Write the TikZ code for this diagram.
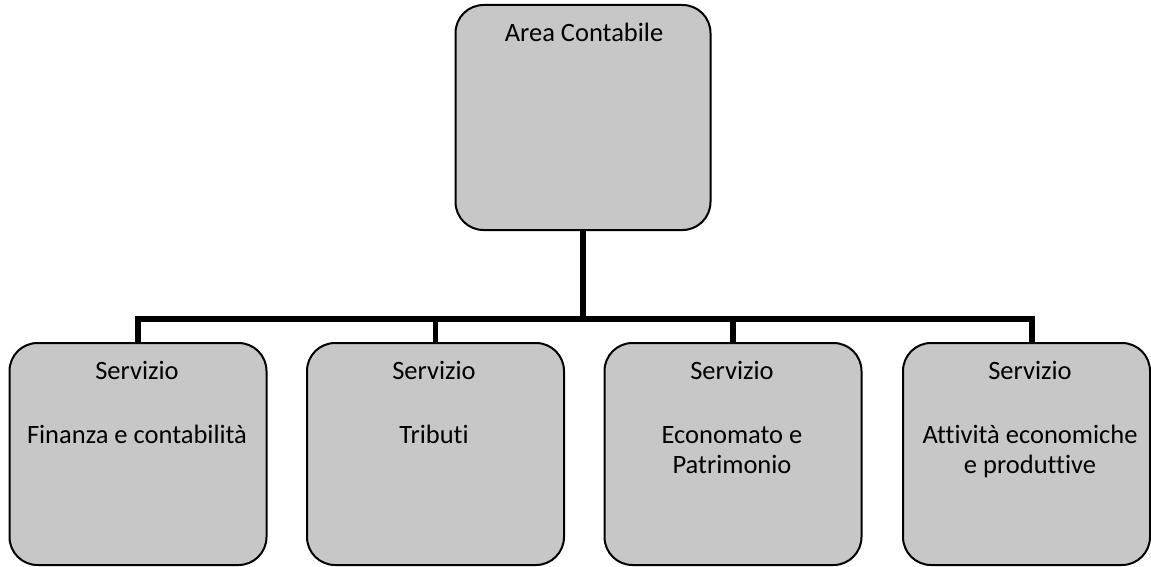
\documentclass[tikz,border=0pt]{standalone}
\usepackage{fontspec}
\setmainfont[Ligatures=NoCommon]{Carlito}
\definecolor{boxgray}{gray}{0.78}
\begin{document}
\begin{tikzpicture}[x=1pt,y=-1pt,
    box/.style={draw, line width=2pt, rounded corners=28pt, fill=boxgray, minimum width=257pt, minimum height=222pt, inner sep=0pt},
    boxtext/.style={font=\fontsize{26.5}{30}\selectfont, align=center, anchor=base, inner sep=0pt},
    link/.style={line width=5.5pt}]
    \clip (0,0) rectangle (1151,567);
    \node [box, minimum width=255pt, minimum height=225pt] (area) at (583,117.5) {};
    \node [box] (fin) at (138,454) {};
    \node [box] (trib) at (435.5,454) {};
    \node [box] (econ) at (733,454) {};
    \node [box, minimum width=247pt] (att) at (1026.5,454) {};
    \coordinate (hub) at (583,319);
    \draw [link] (area.south) -- (hub);
    \draw [link] (hub) -| (fin.north);
    \draw [link] (hub) -| (trib.north);
    \draw [link] (hub) -| (econ.north);
    \draw [link] (hub) -| ([xshift=5.5pt]att.north);
    \node [boxtext] (areaname) at (584,42) {Area Contabile};
    \node [boxtext] (finhead) at (137,379) {Servizio};
    \node [boxtext] (finname) at (137,443) {Finanza e contabilità};
    \node [boxtext] (tribhead) at (434,379) {Servizio};
    \node [boxtext] (tribname) at (434,443) {Tributi};
    \node [boxtext] (econhead) at (732,379) {Servizio};
    \node [boxtext] (econname) at (732,473) {Economato e\\Patrimonio};
    \node [boxtext] (atthead) at (1030,379) {Servizio};
    \node [boxtext] (attname) at (1030,473) {Attività economiche\\e produttive};
\end{tikzpicture}
\end{document}
